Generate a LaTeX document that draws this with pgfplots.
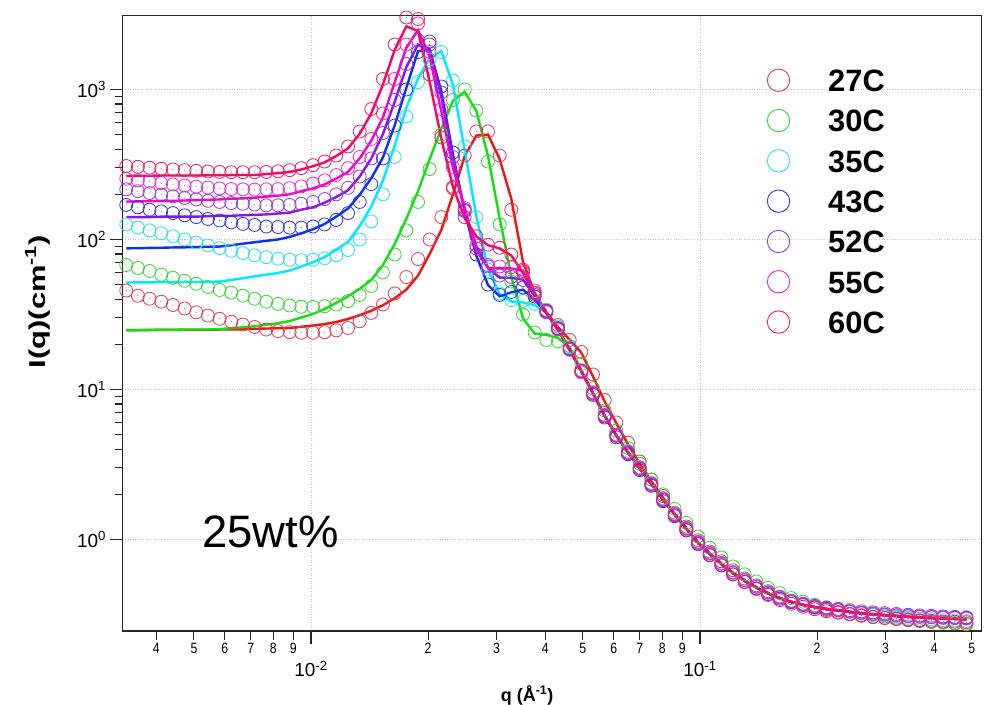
\documentclass[border=0pt]{standalone}
\usepackage{fontspec}
\setmainfont{Liberation Sans}
\newfontfamily\narrowfont[FakeStretch=0.82]{Liberation Sans}
\newfontfamily\widefont[FakeStretch=1.35]{Liberation Sans}
\usepackage{pgfplots}
\pgfplotsset{compat=1.18}
\usepackage{pgfplotstable}

\definecolor{c27}{RGB}{225,60,85}
\definecolor{c30}{RGB}{50,215,50}
\definecolor{c35}{RGB}{40,225,235}
\definecolor{c43}{RGB}{50,50,230}
\definecolor{c52}{RGB}{140,60,225}
\definecolor{c55}{RGB}{235,40,195}
\definecolor{c60}{RGB}{235,30,100}
\definecolor{l27}{RGB}{240,20,20}
\definecolor{l30}{RGB}{20,225,20}
\definecolor{l35}{RGB}{0,235,255}
\definecolor{l43}{RGB}{10,50,240}
\definecolor{l52}{RGB}{140,20,230}
\definecolor{l55}{RGB}{250,0,200}
\definecolor{l60}{RGB}{255,0,100}
\definecolor{gridc}{RGB}{185,190,235}

\pgfdeclareplotmark{cdot}{%
  \pgfpathcircle{\pgfpointorigin}{\pgfplotmarksize}\pgfusepathqstroke
  \pgfpathcircle{\pgfpointorigin}{0.5bp}\pgfusepathqfill}

\pgfplotstableread{
q d27 d30 d35 d43 d52 d55 d60
0.003350 45.7 67.6 126 170 216 254 309
0.003589 42.2 64.6 120 164 210 248 305
0.003846 40.3 61.7 115 158 204 243 301
0.004121 38.5 58.2 110 154 199 238 296
0.004416 36.6 55.6 105 150 194 233 293
0.004732 34.7 53.1 100 145 189 229 290
0.005070 32.7 50.7 95.5 141 185 225 287
0.005433 31.1 48.2 91.2 137 181 222 284
0.005821 29.6 46.1 87.5 134 178 219 282
0.006237 28.3 44.2 84.1 130 175 217 281
0.006683 27.1 42.2 81.3 127 173 216 281
0.007161 26.1 40.3 78.5 125 171 215 281
0.007674 25.1 38.5 76.2 122 169 216 282
0.008222 24.5 37.2 74.5 121 169 217 285
0.008810 24.1 36.3 73.3 120 170 220 290
0.009441 23.9 35.6 72.8 120 173 226 299
0.01012 23.9 35.5 73.3 122 178 236 313
0.01084 24.1 35.9 75.0 126 186 248 331
0.01161 24.8 36.8 78.5 135 200 269 363
0.01245 25.7 38.9 85.1 150 221 299 417
0.01334 28.5 42.7 100 178 263 355 525
0.01429 32.4 49.0 132 234 347 468 741
0.01531 36.9 60.3 200 347 513 692 1175
0.01641 43.7 79.4 355 575 851 1175 1995
0.01758 56.2 115 661 1000 1479 1995 3020
0.01884 74.1 178 1122 1778 2138 2754 2951
0.02018 100 295 1585 2089 1995 1778 1259
0.02163 141 501 1778 1047 955 741 479
0.02317 219 851 1148 380 355 302 224
0.02483 363 1000 417 155 158 162 141
0.02661 525 724 141 79.4 91.2 87.1 105
0.02851 525 331 63.1 50.1 66.1 67.6 92.3
0.03055 363 126 43.7 42.7 57.5 66.1 88.1
0.03273 158 52.5 39.4 44.7 56.2 65.3 79.4
0.03508 63.1 31.6 38.9 47.9 53.7 60.3 61.7
0.03758 45.7 24.0 37.2 41.7 42.7 43.7 44.2
0.04027 33.9 21.4 33.9 33.5 33.1 32.7 33.1
0.04315 26.9 20.9 26.3 25.7 25.4 25.1 25.4
0.04624 21.4 19.5 19.1 18.8 18.6 18.4 18.6
0.04955 17.8 14.8 13.5 13.3 13.2 13.0 13.3
0.05309 12.6 10.2 9.6 9.2 9.44 9.55 9.35
0.05689 8.51 7.24 6.8 6.5 6.68 6.75 6.6
0.06095 6.03 5.31 5.0 4.8 4.94 5.0 4.9
0.06531 4.42 4.07 3.9 3.7 3.80 3.84 3.76
0.06998 3.31 3.20 3.05 2.9 2.98 3.01 2.95
0.07499 2.51 2.51 2.39 2.28 2.34 2.36 2.31
0.08035 1.95 2.0 1.89 1.80 1.85 1.87 1.83
0.08610 1.51 1.60 1.50 1.43 1.47 1.48 1.45
0.09226 1.22 1.29 1.20 1.15 1.18 1.19 1.16
0.09886 0.989 1.047 0.97 0.93 0.955 0.962 0.94
0.1059 0.832 0.881 0.82 0.785 0.806 0.812 0.79
0.1135 0.716 0.759 0.70 0.672 0.690 0.694 0.675
0.1216 0.624 0.661 0.61 0.585 0.600 0.603 0.586
0.1303 0.550 0.586 0.54 0.522 0.535 0.536 0.520
0.1396 0.495 0.525 0.488 0.472 0.484 0.484 0.468
0.1496 0.452 0.476 0.446 0.433 0.443 0.442 0.427
0.1603 0.417 0.439 0.413 0.403 0.412 0.410 0.395
0.1718 0.389 0.407 0.390 0.382 0.390 0.388 0.373
0.1841 0.367 0.385 0.372 0.366 0.373 0.371 0.356
0.1972 0.351 0.367 0.358 0.354 0.361 0.358 0.343
0.2113 0.339 0.353 0.347 0.345 0.352 0.348 0.333
0.2265 0.329 0.341 0.339 0.338 0.345 0.340 0.325
0.2427 0.320 0.331 0.330 0.331 0.338 0.332 0.317
0.2600 0.313 0.322 0.322 0.325 0.332 0.325 0.310
0.2786 0.305 0.314 0.316 0.320 0.327 0.320 0.304
0.2985 0.300 0.307 0.311 0.316 0.323 0.316 0.300
0.3199 0.295 0.301 0.306 0.312 0.319 0.312 0.296
0.3428 0.290 0.295 0.301 0.309 0.315 0.308 0.292
0.3673 0.286 0.290 0.297 0.306 0.312 0.305 0.289
0.3936 0.282 0.285 0.294 0.304 0.310 0.303 0.287
0.4217 0.279 0.281 0.290 0.302 0.307 0.300 0.284
0.4519 0.275 0.277 0.288 0.301 0.305 0.299 0.283
0.4842 0.272 0.274 0.286 0.300 0.303 0.297 0.281
}\datatab

\pgfplotstableread{
q f27 f30 f35 f43 f52 f55 f60
0.003350 24.9 24.9 51.6 87.3 141 179 265
0.003589 24.9 24.9 51.8 87.5 141 179.5 266
0.003846 24.9 25.0 51.8 87.9 141 180 266
0.004121 25.0 25.0 51.9 88.1 142 181 267
0.004416 25.0 25.0 52.0 88.5 142 181 267
0.004732 25.0 25.1 52.1 88.7 142 182 267
0.005070 25.0 25.1 52.1 89.1 142 183 267
0.005433 25.0 25.1 52.2 89.5 143 184 268
0.005821 25.1 25.3 52.4 89.7 144 185 268
0.006237 25.1 25.6 53.7 91.6 144 187 269
0.006683 25.2 26.0 55.2 93.8 145 188 269
0.007161 25.4 26.4 56.8 95.9 146 190 269
0.007674 25.5 27.0 58.3 98.0 147 193 273
0.008222 25.6 27.7 59.8 100 149 196 277
0.008810 25.7 28.6 62.1 104 151 200 282
0.009441 26.2 30.2 66.1 110 158 210 293
0.01012 26.7 31.9 70.5 117 164 219 308
0.01084 27.3 34.4 76.4 127 176 233 327
0.01161 28.2 37.8 85.5 142 192 255 360
0.01245 29.5 41.8 96.6 161 213 282 405
0.01334 31.3 46.9 123 199 263 348 507
0.01429 33.5 53.7 166 256 347 456 693
0.01531 36.5 67.6 247 353 505 652 1081
0.01641 40.6 93.3 422 577 826 1114 1837
0.01758 46.3 137 753 1023 1409 1897 2636
0.01884 57.4 210 1183 1803 1995 2489 2455
0.02018 80.0 342 1618 1845 1866 1656 1130
0.02163 116 550 1803 977 891 716 471
0.02317 200 839 1074 370 350 301 224
0.02483 359 966 395 154 156 163 139
0.02661 493 719 143 77.8 90.4 84.1 105
0.02851 501 361 63.8 49.7 64.9 64.6 91.6
0.03055 344 139 43.3 41.8 55.7 64.3 87.1
0.03273 187 56.6 38.6 44.4 55.5 64.1 78.2
0.03508 70.8 29.8 38.0 46.3 54.0 61.7 59.8
0.03758 44.2 23.6 36.6 39.8 41.9 43.5 42.7
0.04027 32.8 23.1 32.4 32.4 32.4 32.4 32.4
0.04315 26.0 22.1 25.1 25.1 25.1 25.1 25.1
0.04624 21.5 19.1 18.4 18.4 18.4 18.4 18.4
0.04955 17.6 13.5 13.2 13.2 13.2 13.2 13.2
0.05309 12.2 9.44 9.44 9.44 9.44 9.44 9.44
0.05689 8.32 6.68 6.68 6.68 6.68 6.68 6.68
0.06095 5.96 4.94 4.94 4.94 4.94 4.94 4.94
0.06531 4.31 3.80 3.80 3.80 3.80 3.80 3.80
0.06998 3.21 2.98 2.98 2.98 2.98 2.98 2.98
0.07499 2.45 2.34 2.34 2.34 2.34 2.34 2.34
0.08035 1.90 1.85 1.85 1.85 1.85 1.85 1.85
0.08610 1.48 1.47 1.47 1.47 1.47 1.47 1.47
0.09226 1.18 1.18 1.18 1.18 1.18 1.18 1.18
0.09886 0.953 0.953 0.953 0.953 0.953 0.953 0.953
0.1059 0.804 0.804 0.804 0.804 0.804 0.804 0.804
0.1135 0.687 0.687 0.687 0.687 0.687 0.687 0.687
0.1216 0.597 0.597 0.597 0.597 0.597 0.597 0.597
0.1303 0.531 0.531 0.531 0.531 0.531 0.531 0.531
0.1396 0.479 0.479 0.479 0.479 0.479 0.479 0.479
0.1496 0.438 0.438 0.438 0.438 0.438 0.438 0.438
0.1603 0.406 0.406 0.406 0.406 0.406 0.406 0.406
0.1718 0.384 0.384 0.384 0.384 0.384 0.384 0.384
0.1841 0.367 0.367 0.367 0.367 0.367 0.367 0.367
0.1972 0.354 0.354 0.354 0.354 0.354 0.354 0.354
0.2113 0.344 0.344 0.344 0.344 0.344 0.344 0.344
0.2265 0.337 0.337 0.337 0.337 0.337 0.337 0.337
0.2427 0.329 0.329 0.329 0.329 0.329 0.329 0.329
0.2600 0.322 0.322 0.322 0.322 0.322 0.322 0.322
0.2786 0.317 0.317 0.317 0.317 0.317 0.317 0.317
0.2985 0.313 0.313 0.313 0.313 0.313 0.313 0.313
0.3199 0.309 0.309 0.309 0.309 0.309 0.309 0.309
0.3428 0.305 0.305 0.305 0.305 0.305 0.305 0.305
0.3673 0.302 0.302 0.302 0.302 0.302 0.302 0.302
0.3936 0.300 0.300 0.300 0.300 0.300 0.300 0.300
0.4217 0.297 0.297 0.297 0.297 0.297 0.297 0.297
0.4519 0.296 0.296 0.296 0.296 0.296 0.296 0.296
0.4842 0.294 0.294 0.294 0.294 0.294 0.294 0.294
}\fittab

\begin{document}
\begin{tikzpicture}
\begin{axis}[
  scale only axis, width=859.2bp, height=615.3bp,
  xmode=log, ymode=log,
  xmin=0.003276, xmax=0.5300, ymin=0.2455, ymax=3105,
  clip=false,
  axis line style={line width=1.4bp, color=black!85},
  tick pos=left, tick align=outside,
  major tick length=13bp, minor tick length=7bp,
  every tick/.style={black!85, line width=1.1bp},
  xtick={0.01,0.1},
  xticklabels={10\textsuperscript{-2},10\textsuperscript{-1}},
  xminorticks=false,
  extra x ticks={0.004,0.005,0.006,0.007,0.008,0.009,0.02,0.03,0.04,0.05,0.06,0.07,0.08,0.09,0.2,0.3,0.4,0.5},
  extra x tick labels={4,5,6,7,8,9,2,3,4,5,6,7,8,9,2,3,4,5},
  extra x tick style={grid=none, major tick length=9bp,
     xticklabel style={yshift=14bp, font=\narrowfont\fontsize{15}{15}\selectfont}},
  ytick={1,10,100,1000},
  yticklabels={10\textsuperscript{0},10\textsuperscript{1},10\textsuperscript{2},10\textsuperscript{3}},
  tick label style={font=\fontsize{19}{19}\selectfont},
  xticklabel style={yshift=-14bp},
  grid=major,
  major grid style={line width=0.6bp, color=gridc, dash pattern=on 1bp off 1.6bp},
  xlabel={q (Å\textsuperscript{-1})},
  xlabel style={font=\fontsize{18}{18}\selectfont\bfseries, at={(axis description cs:0.471,-0.104)}, anchor=center},
  ylabel={I(q)(cm\textsuperscript{-1})},
  ylabel style={font=\widefont\fontsize{23}{23}\selectfont\bfseries, at={(axis description cs:-0.099,0.535)}, anchor=center},
  legend image code/.code={\draw[#1, line width=0.9bp] (0bp,0bp) circle (11.2bp);},
  legend cell align=left,
  legend style={at={(0.750,0.914)}, anchor=north west, draw=none, fill=none,
     inner sep=0pt, outer sep=0pt, row sep=17bp, column sep=38bp,
     font=\fontsize{31}{31}\selectfont\bfseries,
     nodes={inner sep=0pt, text height=22.5bp, text depth=0pt}},
]
\coordinate (sw) at (rel axis cs:0,0);
\coordinate (ne) at (rel axis cs:1,1);

\addplot[only marks, mark=cdot, mark size=6.5bp, color=c27, mark options={solid, line width=0.8bp}] table[x=q,y=d27]{\datatab};
\addlegendentry{27C}
\addplot[only marks, mark=cdot, mark size=6.5bp, color=c30, mark options={solid, line width=0.8bp}] table[x=q,y=d30]{\datatab};
\addlegendentry{30C}
\addplot[only marks, mark=cdot, mark size=6.5bp, color=c35, mark options={solid, line width=0.8bp}] table[x=q,y=d35]{\datatab};
\addlegendentry{35C}
\addplot[only marks, mark=cdot, mark size=6.5bp, color=c43, mark options={solid, line width=0.8bp}] table[x=q,y=d43]{\datatab};
\addlegendentry{43C}
\addplot[only marks, mark=cdot, mark size=6.5bp, color=c52, mark options={solid, line width=0.8bp}] table[x=q,y=d52]{\datatab};
\addlegendentry{52C}
\addplot[only marks, mark=cdot, mark size=6.5bp, color=c55, mark options={solid, line width=0.8bp}] table[x=q,y=d55]{\datatab};
\addlegendentry{55C}
\addplot[only marks, mark=cdot, mark size=6.5bp, color=c60, mark options={solid, line width=0.8bp}] table[x=q,y=d60]{\datatab};
\addlegendentry{60C}

\addplot[forget plot, no markers, line width=2.4bp, color=l27] table[x=q,y=f27]{\fittab};
\addplot[forget plot, no markers, line width=2.4bp, color=l30] table[x=q,y=f30]{\fittab};
\addplot[forget plot, no markers, line width=2.4bp, color=l35] table[x=q,y=f35]{\fittab};
\addplot[forget plot, no markers, line width=2.4bp, color=l43] table[x=q,y=f43]{\fittab};
\addplot[forget plot, no markers, line width=2.4bp, color=l52] table[x=q,y=f52]{\fittab};
\addplot[forget plot, no markers, line width=2.4bp, color=l55] table[x=q,y=f55]{\fittab};
\addplot[forget plot, no markers, line width=2.4bp, color=l60] table[x=q,y=f60]{\fittab};

\node[anchor=base west, inner sep=0pt, font=\fontsize{45.6}{45.6}\selectfont] at (axis description cs:0.0925,0.1354) {25wt\%};
\end{axis}
\pgfresetboundingbox
\path[use as bounding box] ([xshift=-122.5bp,yshift=-74bp]sw) rectangle ([xshift=2.3bp,yshift=15.7bp]ne);
\end{tikzpicture}
\end{document}
